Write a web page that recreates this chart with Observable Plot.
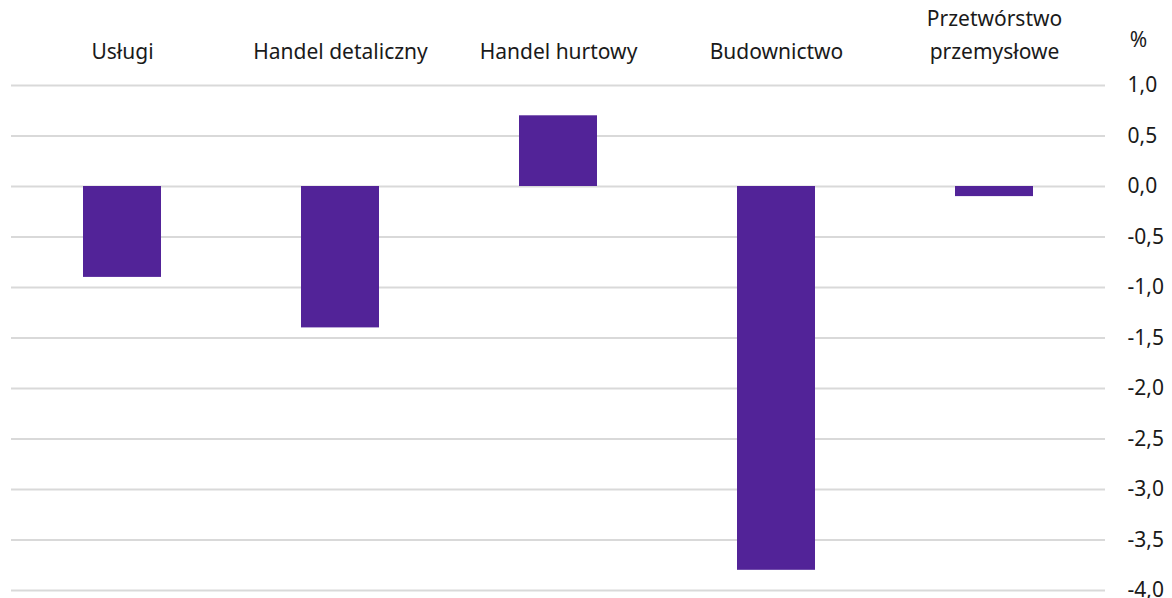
<!DOCTYPE html>
<html><head><meta charset="utf-8">
<script src="https://cdn.jsdelivr.net/npm/d3@7"></script>
<script src="https://cdn.jsdelivr.net/npm/@observablehq/plot@0.6"></script>
<style>body{margin:0;background:#fff}</style>
</head><body><div id="chart"></div>
<script>
const categories = ["Usługi", "Handel detaliczny", "Handel hurtowy", "Budownictwo", "Przetwórstwo przemysłowe"];
const values = [-0.9, -1.4, 0.7, -3.8, -0.1];
const yTicks = [1, 0.5, 0, -0.5, -1, -1.5, -2, -2.5, -3, -3.5, -4];
const labelLines = {"Przetwórstwo przemysłowe": "Przetwórstwo\nprzemysłowe"};
const unitLabel = ["%"];
const data = categories.map((c, i) => ({category: c, value: values[i]}));
const fmt = v => d3.format(".1f")(v).replace(".", ",").replace("−", "-");
const chart = Plot.plot({
  width: 1172, height: 598,
  marginLeft: 11, marginRight: 67, marginTop: 85, marginBottom: 8,
  style: {fontFamily: "'Noto Sans', sans-serif", fontSize: "21px", color: "#1a1a1a", overflow: "visible"},
  x: {domain: categories, paddingInner: 0.644, paddingOuter: 0.32, label: null},
  y: {domain: [-4, 1], label: null},
  marks: [
    Plot.gridY(yTicks, {stroke: "#d9d9d9", strokeOpacity: 1, strokeWidth: 2}),
    Plot.barY(data, {x: "category", y: "value", fill: "#522398"}),
    Plot.axisX({anchor: "top", tickSize: 0, tickPadding: 27, label: null, fontSize: 21, tickFormat: d => labelLines[d] || d, lineHeight: 1.55, style: "letter-spacing:0.6px"}),
    Plot.axisY(yTicks, {anchor: "right", tickSize: 0, tickPadding: 22, fontSize: 21, textAnchor: "start", tickFormat: fmt, label: null}),
    Plot.text(unitLabel, {text: d => d, frameAnchor: "top-right", dx: 33, dy: -53, fontSize: 21, textAnchor: "middle"})
  ]
});
document.getElementById("chart").appendChild(chart);
</script></body></html>
